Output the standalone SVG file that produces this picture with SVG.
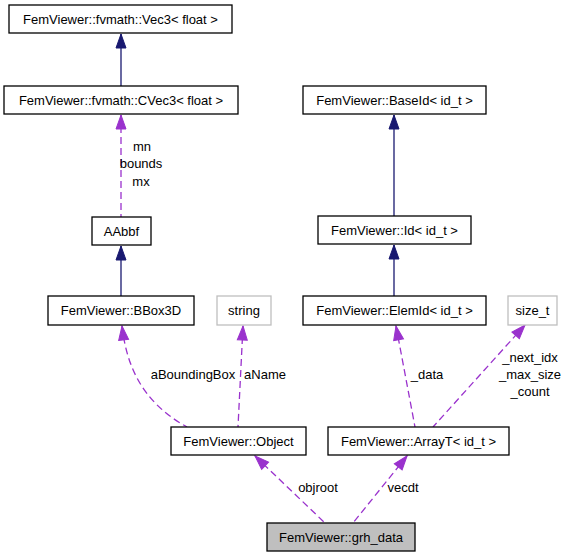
<svg xmlns="http://www.w3.org/2000/svg" width="571" height="557" viewBox="0 0 571 557">
<style>
text{font-family:"Liberation Sans",Arial,sans-serif;font-size:13px;fill:#000;text-anchor:middle}
.n rect{fill:#fff;stroke:#000;stroke-width:1.3}
.g rect{fill:#fff;stroke:#bfbfbf;stroke-width:1.3}
.cur rect{fill:#bfbfbf;stroke:#000;stroke-width:1.3}
.inh{fill:none;stroke:#191970;stroke-width:1.3;marker-start:url(#ai)}
.use{fill:none;stroke:#9a32cd;stroke-width:1.3;stroke-dasharray:7,4;marker-start:url(#au)}
</style>
<defs>
<marker id="ai" markerUnits="userSpaceOnUse" markerWidth="16" markerHeight="12" refX="0" refY="6" orient="auto" viewBox="0 0 16 12" overflow="visible">
<path d="M0,6 L14,1 L14,11 Z" fill="#191970" stroke="#191970"/>
</marker>
<marker id="au" markerUnits="userSpaceOnUse" markerWidth="16" markerHeight="12" refX="0" refY="6" orient="auto" viewBox="0 0 16 12" overflow="visible">
<path d="M0,6 L14,1 L14,11 Z" fill="#9a32cd" stroke="#9a32cd"/>
</marker>
</defs>
<g id="edges">
<path class="inh" d="M121,34 L121,86"/>
<path class="use" d="M121,115 L121,217"/>
<path class="inh" d="M121,246 L121,296"/>
<path class="inh" d="M394,115 L394,216"/>
<path class="inh" d="M394,245 L394,296"/>
<path class="use" d="M122,326 C126,360 138,400 187,427"/>
<path class="use" d="M243,326 L238,427"/>
<path class="use" d="M396,326 L415,427"/>
<path class="use" d="M525,325 L433,427"/>
<path class="use" d="M255,456 L325,523"/>
<path class="use" d="M407,456 L353,523"/>
<text x="142" y="151">mn</text>
<text x="141" y="168">bounds</text>
<text x="141" y="186">mx</text>
<text x="193" y="379">aBoundingBox</text>
<text x="265" y="379">aName</text>
<text x="427" y="379">_data</text>
<text x="530" y="362">_next_idx</text>
<text x="530" y="379">_max_size</text>
<text x="530" y="396">_count</text>
<text x="318" y="492">objroot</text>
<text x="403" y="492">vecdt</text>
</g>
<g id="vec3" class="n"><rect x="9" y="5" width="223" height="28"/><text x="120.5" y="23.5">FemViewer::fvmath::Vec3&lt; float &gt;</text></g>
<g id="cvec3" class="n"><rect x="4" y="86" width="234" height="28"/><text x="121" y="104.5">FemViewer::fvmath::CVec3&lt; float &gt;</text></g>
<g id="aabbf" class="n"><rect x="92" y="217" width="59" height="28"/><text x="121.5" y="235.5">AAbbf</text></g>
<g id="bbox3d" class="n"><rect x="48" y="296" width="146" height="29"/><text x="121" y="315">FemViewer::BBox3D</text></g>
<g id="string" class="g"><rect x="217" y="296" width="54" height="29"/><text x="244" y="315">string</text></g>
<g id="baseid" class="n"><rect x="303" y="86" width="183" height="28"/><text x="394.5" y="104.5">FemViewer::BaseId&lt; id_t &gt;</text></g>
<g id="id" class="n"><rect x="318" y="216" width="153" height="28"/><text x="394.5" y="234.5">FemViewer::Id&lt; id_t &gt;</text></g>
<g id="elemid" class="n"><rect x="303" y="296" width="183" height="29"/><text x="394.5" y="315">FemViewer::ElemId&lt; id_t &gt;</text></g>
<g id="size_t" class="g"><rect x="508" y="296" width="49" height="29"/><text x="532.5" y="315">size_t</text></g>
<g id="object" class="n"><rect x="171" y="427" width="135" height="28"/><text x="238.5" y="445.5">FemViewer::Object</text></g>
<g id="arrayt" class="n"><rect x="328" y="427" width="181" height="28"/><text x="418.5" y="445.5">FemViewer::ArrayT&lt; id_t &gt;</text></g>
<g id="grh_data" class="cur"><rect x="267" y="523" width="148" height="28"/><text x="341" y="541.5">FemViewer::grh_data</text></g>
</svg>
